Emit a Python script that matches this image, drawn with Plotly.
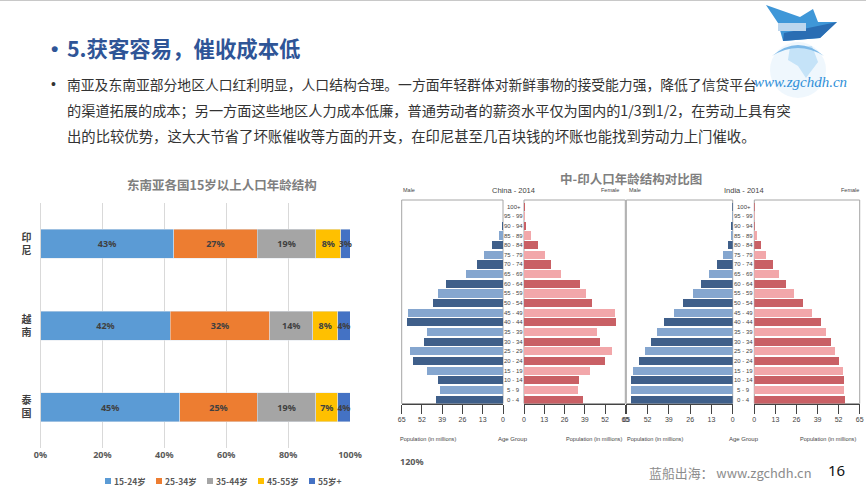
import plotly.graph_objects as go

# ---------- dados ----------
paises = ['泰国', '越南', '印尼']
paises_txt = ['泰<br>国', '越<br>南', '印<br>尼']
faixas = ['15-24岁', '25-34岁', '35-44岁', '45-55岁', '55岁+']
v_15_24 = [45, 42, 43]
v_25_34 = [25, 32, 27]
v_35_44 = [19, 14, 19]
v_45_55 = [7, 8, 8]
v_55_mais = [4, 4, 3]
cores = ['#5b9bd5', '#ed7d31', '#a5a5a5', '#ffc000', '#4472c4']

idades = ['0 - 4', '5 - 9', '10 - 14', '15 - 19', '20 - 24', '25 - 29', '30 - 34', '35 - 39', '40 - 44',
          '45 - 49', '50 - 54', '55 - 59', '60 - 64', '65 - 69', '70 - 74', '75 - 79', '80 - 84', '85 - 89',
          '90 - 94', '95 - 99', '100+']
china_h = [42.9, 40.4, 41.5, 48.5, 57.5, 59.8, 51, 48.9, 61.5, 61.1, 45, 41.7, 36.3, 23.9, 16.7, 12.2, 7, 2.8, 0.8, 0.1, 0.02]
china_m = [37.8, 34.6, 35, 42.1, 51.9, 56.4, 48.7, 47, 59.2, 58.5, 43.8, 40, 36.1, 23.9, 17.3, 13.7, 8.8, 4.3, 1.3, 0.3, 0.05]
india_h = [62.4, 62.2, 62.4, 61.2, 57.3, 53.5, 50.2, 46.1, 42, 36.1, 30.2, 24.5, 19.2, 14.3, 9.8, 6.1, 3.1, 1, 0.3, 0.1, 0.05]
india_m = [56, 55.2, 55.6, 54.8, 52, 49.5, 47, 44.1, 41.1, 35.3, 29.8, 24.6, 19.5, 15.2, 11.3, 7.4, 3.9, 1.8, 0.6, 0.2, 0.05]
ticks_pop = [0, 13, 26, 39, 52, 65]

W, H = 866, 487
CJK = 'Noto Sans CJK SC'
SANS = 'Liberation Sans'
CINZA = '#7f7f7f'


def fx(p):
    return p / W


def fy(p):
    return 1 - p / H


def texto(t, x, y, size, color, anchor='left', family=CJK):
    return dict(text=t, x=fx(x), y=fy(y), xref='paper', yref='paper', showarrow=False, xanchor=anchor,
                yanchor='middle', borderpad=0, font=dict(size=size, color=color, family=family))


fig = go.Figure()

# ---------- barras empilhadas ----------
series = [v_15_24, v_25_34, v_35_44, v_45_55, v_55_mais]
for nome, vals, cor in zip(faixas, series, cores):
    fig.add_trace(go.Bar(
        y=paises, x=[v / 100 for v in vals], name=nome, orientation='h', showlegend=False,
        marker=dict(color=cor, line=dict(color='#dfe6ee', width=0.5)),
        text=[f'<b>{v}%</b>' for v in vals], textposition='inside', insidetextanchor='middle',
        constraintext='none', textangle=0, cliponaxis=False,
        textfont=dict(size=9, color='#404040', family='Noto Sans'),
        xaxis='x', yaxis='y'))

# ---------- piramides ----------
escuro_claro = lambda a, b: [a if i % 2 == 0 else b for i in range(len(idades))]
azul = escuro_claro('#3f5f8a', '#85a6cf')
rosa = escuro_claro('#c96065', '#f2a7aa')
paineis = [(china_h, azul, 2), (china_m, rosa, 3), (india_h, azul, 4), (india_m, rosa, 5)]
for vals, cor, n in paineis:
    fig.add_trace(go.Bar(
        y=list(range(len(idades))), x=vals, orientation='h', showlegend=False, width=0.84,
        marker=dict(color=cor, line=dict(width=0)), xaxis=f'x{n}', yaxis=f'y{n}'))

layout = dict(
    width=W, height=H, margin=dict(l=0, r=0, t=0, b=0), paper_bgcolor='white', plot_bgcolor='rgba(0,0,0,0)',
    barmode='stack', bargap=0.645, showlegend=False,
    xaxis=dict(domain=[fx(40.5), fx(350)], range=[0, 1], tickvals=[0, .2, .4, .6, .8, 1], tickformat='.0%',
               showgrid=True, gridcolor='#d9d9d9', gridwidth=1, zeroline=False, showline=False, ticks='',
               tickfont=dict(size=9, color='#595959', family='Noto Sans', weight='bold'), automargin=False),
    yaxis=dict(domain=[fy(448), fy(203)], categoryorder='array', categoryarray=paises, tickvals=paises,
               ticktext=paises_txt, showgrid=False, showline=True, linecolor='#d9d9d9', ticks='', ticklabelstandoff=6,
               tickfont=dict(size=10, color='#404040', family=CJK, weight='bold'), automargin=False),
)

# posicao em pixels de cada metade (esq, dir, invertido)
metades = {2: (401.7, 503, True), 3: (524, 625.3, False), 4: (626.3, 732.7, True), 5: (754.3, 859.7, False)}
for n, (x0, x1, inv) in metades.items():
    layout[f'xaxis{n}'] = dict(
        domain=[fx(x0), fx(x1)], range=[65, 0] if inv else [0, 65], anchor=f'y{n}', tickvals=ticks_pop,
        showgrid=False, zeroline=False, showline=True, linecolor='#444444', linewidth=1, ticks='outside',
        ticklen=9, tickcolor='#444444', tickwidth=0.7, automargin=False,
        tickfont=dict(size=7, color='#444444', family=SANS))
    layout[f'yaxis{n}'] = dict(
        domain=[fy(403.5), fy(200)], range=[-0.4, 20.68], anchor=f'x{n}', showticklabels=False, ticks='',
        showgrid=False, zeroline=False, showline=False, automargin=False)
fig.update_layout(**layout)

anots = []
anots.append(texto('<b>•</b>', 50, 48, 21, '#2f5597', 'left', SANS))
anots.append(texto('<b>5.获客容易，催收成本低</b>', 66, 47.5, 21.4, '#2f5597'))
anots.append(texto('•', 50, 84, 14, '#333333', 'left', SANS))
linhas = ['南亚及东南亚部分地区人口红利明显，人口结构合理。一方面年轻群体对新鲜事物的接受能力强，降低了信贷平台',
          '的渠道拓展的成本；另一方面这些地区人力成本低廉，普通劳动者的薪资水平仅为国内的1/3到1/2，在劳动上具有突',
          '出的比较优势，这大大节省了坏账催收等方面的开支，在印尼甚至几百块钱的坏账也能找到劳动力上门催收。']
tamanhos = [13.8, 14.2, 14.35]
for i, l in enumerate(linhas):
    anots.append(texto(l, 66, 84 + i * 26, tamanhos[i], '#333333'))

anots.append(texto('<b>东南亚各国15岁以上人口年龄结构</b>', 222, 184.5, 12.5, CINZA, 'center'))
anots.append(texto('<b>中-印人口年龄结构对比图</b>', 631, 179, 12.5, CINZA, 'center'))
anots.append(texto('<b>120%</b>', 412, 461, 9, '#595959', 'center', 'Noto Sans'))

# legenda manual (quadrado pequeno colado no texto)
shapes = []
for i, (nome, cor) in enumerate(zip(faixas, cores)):
    x = 105 + i * 51
    shapes.append(dict(type='rect', xref='paper', yref='paper', x0=fx(x), x1=fx(x + 6), y0=fy(484), y1=fy(478),
                       fillcolor=cor, line=dict(width=0)))
    anots.append(texto(f'<b>{nome}</b>', x + 8, 481, 8.5, '#595959'))

# textos das piramides
for centro, esq, dir_, nome in [(513, 402, 620, 'China - 2014'), (743.5, 628, 860, 'India - 2014')]:
    anots.append(texto(nome, centro, 190, 7.5, '#444444', 'center', SANS))
    anots.append(texto('Male', esq, 190, 5.5, '#444444', 'left', SANS))
    anots.append(texto('Female', dir_, 190, 5.5, '#444444', 'right', SANS))
    anots.append(texto('Age Group', centro, 439, 6, '#444444', 'center', SANS))
for cx in [428, 594, 655, 828]:
    anots.append(texto('Population (in millions)', cx, 439, 5.6, '#444444', 'center', SANS))

for n, centro in [(3, 513.5), (5, 743.5)]:
    for i, faixa in enumerate(idades):
        anots.append(dict(text=faixa, x=fx(centro), y=i, xref='paper', yref=f'y{n}', showarrow=False,
                          xanchor='center', borderpad=0, font=dict(size=6, color='#444444', family=SANS)))

# moldura cinza dos paineis
for n in metades:
    shapes.append(dict(type='rect', xref=f'x{n} domain', yref=f'y{n} domain', x0=0, x1=1, y0=0, y1=1,
                       line=dict(color='#a6a6a6', width=1), layer='below'))

# rodape
anots.append(texto('蓝船出海： www.zgchdh.cn', 648, 472, 12.9, '#8c8c8c'))
anots.append(texto('16', 836, 470, 15, '#111111', 'center', 'Noto Sans'))

# linha do topo
shapes.append(dict(type='rect', xref='paper', yref='paper', x0=0, x1=1, y0=fy(1), y1=1,
                   fillcolor='#c8c8c8', line=dict(width=0)))


def caminho(pts):
    return 'M ' + ' L '.join(f'{fx(x):.4f},{fy(y):.4f}' for x, y in pts) + ' Z'


# logo: globo e barco
shapes.append(dict(type='circle', xref='paper', yref='paper', x0=fx(770), x1=fx(826), y0=fy(98), y1=fy(42),
                   fillcolor='#dcedfb', opacity=0.45, line=dict(width=0)))
shapes.append(dict(type='path', xref='paper', yref='paper',
                   path=caminho([(790, 47), (812, 46), (818, 62), (806, 78), (798, 66), (788, 60)]),
                   fillcolor='#a9d6f5', opacity=0.6, line=dict(width=0)))
shapes.append(dict(type='path', xref='paper', yref='paper',
                   path=f'M {fx(772)},{fy(56)} Q {fx(798)},{fy(34)} {fx(824)},{fy(56)} Q {fx(798)},{fy(40)} {fx(772)},{fy(56)} Z',
                   fillcolor='#7db9e8', line=dict(width=0)))
shapes.append(dict(type='path', xref='paper', yref='paper',
                   path=caminho([(766, 5), (800, 17), (813, 9), (818, 22), (837, 22), (820, 38), (783, 41), (778, 23)]),
                   fillcolor='#3f97d8', line=dict(width=0)))
shapes.append(dict(type='path', xref='paper', yref='paper',
                   path=caminho([(784, 33), (837, 22), (820, 38), (783, 41)]),
                   fillcolor='#2a6db3', line=dict(width=0)))
shapes.append(dict(type='rect', xref='paper', yref='paper', x0=fx(778), x1=fx(806), y0=fy(31), y1=fy(23),
                   fillcolor='#bcd6ee', line=dict(width=0)))
anots.append(texto('<i>www.zgchdh.cn</i>', 753, 82, 15, '#2f8fd8', 'left', 'Liberation Serif'))

fig.update_layout(annotations=anots, shapes=shapes)

fig.write_html("out.html", config=dict(displayModeBar=False), post_script="document.body.style.margin='0';")
